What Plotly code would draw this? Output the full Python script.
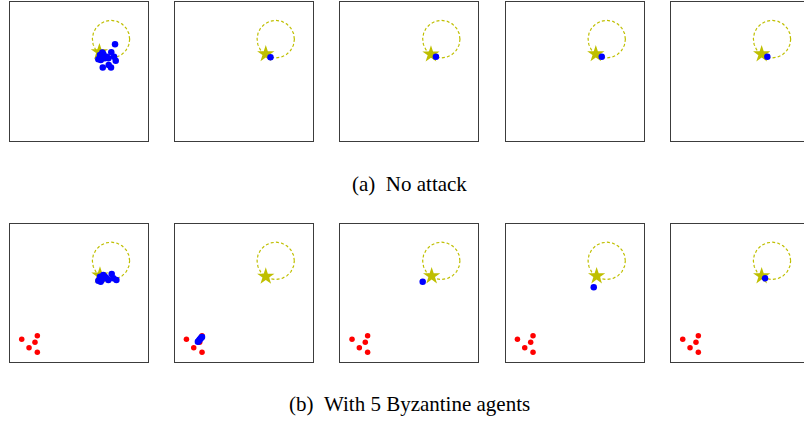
import numpy as np
import plotly.graph_objects as go

# ---- data (positions in the unit square of each snapshot) ----
TARGET_CENTER = (0.732, 0.733)
TARGET_RADIUS = 0.135

# target (star) position in each snapshot, top row then bottom row
star_x_a = [0.648, 0.660, 0.657, 0.653, 0.657]
star_y_a = [0.640, 0.626, 0.624, 0.626, 0.625]
star_x_b = [0.652, 0.660, 0.662, 0.659, 0.657]
star_y_b = [0.628, 0.620, 0.623, 0.623, 0.623]

# honest agents, (a) no attack
blue_a = [
    ([0.761, 0.734, 0.669, 0.652, 0.676, 0.700, 0.664, 0.640, 0.754, 0.766,
      0.672, 0.715, 0.732, 0.686, 0.658, 0.713],
     [0.696, 0.638, 0.636, 0.619, 0.626, 0.607, 0.602, 0.588, 0.607, 0.578,
      0.528, 0.547, 0.528, 0.595, 0.583, 0.595]),
    ([0.694], [0.602]),
    ([0.693], [0.607]),
    ([0.696], [0.607]),
    ([0.698], [0.607]),
]

# honest agents, (b) with Byzantine agents
blue_b = [
    ([0.737, 0.771, 0.676, 0.652, 0.640, 0.700, 0.664, 0.713, 0.749, 0.657,
      0.688],
     [0.638, 0.594, 0.630, 0.618, 0.589, 0.606, 0.594, 0.594, 0.606, 0.582,
      0.618]),
    ([0.168, 0.174, 0.180, 0.186, 0.192, 0.198],
     [0.146, 0.153, 0.161, 0.168, 0.175, 0.182]),
    ([0.597], [0.582]),
    ([0.638], [0.541]),
    ([0.681], [0.606]),
]

# Byzantine agents (fixed)
red_x = [0.198, 0.085, 0.181, 0.138, 0.198]
red_y = [0.191, 0.164, 0.143, 0.104, 0.070]

captions = ["(a)\u00a0\u00a0No attack", "(b)\u00a0\u00a0With 5 Byzantine agents"]

# ---- layout geometry (pixels) ----
W, H = 804, 421
panel_left = [10, 174.7, 340.3, 505.7, 671]
panel_w = 138
row_top = [2, 224]
row_h = [139, 138]

OLIVE = "#bfbf00"
SERIF = "Liberation Serif, Times New Roman, Times, serif"
fig = go.Figure()

theta = np.linspace(0, 2 * np.pi, 200)
circ_x = TARGET_CENTER[0] + TARGET_RADIUS * np.cos(theta)
circ_y = TARGET_CENTER[1] + TARGET_RADIUS * np.sin(theta)

idx = 0
for r in range(2):
    for c in range(5):
        idx += 1
        xa = "x" if idx == 1 else f"x{idx}"
        ya = "y" if idx == 1 else f"y{idx}"
        left = panel_left[c]
        right = min(left + panel_w, W)
        x_hi = (right - left) / panel_w
        fig.add_trace(go.Scatter(x=circ_x, y=circ_y, mode="lines",
                                 line=dict(color=OLIVE, width=1.2, dash="3px,2.2px"),
                                 xaxis=xa, yaxis=ya, hoverinfo="skip"))
        sx = star_x_a[c] if r == 0 else star_x_b[c]
        sy = star_y_a[c] if r == 0 else star_y_b[c]
        fig.add_trace(go.Scatter(x=[sx], y=[sy], mode="markers",
                                 marker=dict(symbol="star", size=13, color=OLIVE,
                                             line=dict(width=0)),
                                 xaxis=xa, yaxis=ya))
        if r == 1:
            fig.add_trace(go.Scatter(x=red_x, y=red_y, mode="markers",
                                     marker=dict(size=5.5, color="#ff0000",
                                                 line=dict(width=0)),
                                     xaxis=xa, yaxis=ya))
        bx, by = (blue_a if r == 0 else blue_b)[c]
        fig.add_trace(go.Scatter(x=bx, y=by, mode="markers",
                                 marker=dict(size=6.5, color="#0000ff",
                                             line=dict(width=0)),
                                 xaxis=xa, yaxis=ya))
        axis_common = dict(showgrid=False, zeroline=False, showticklabels=False,
                           ticks="", showline=True, linecolor="#3c3c3c",
                           linewidth=1, fixedrange=True)
        fig.layout[f"xaxis{'' if idx == 1 else idx}"] = dict(
            domain=[left / W, right / W], range=[0, x_hi], anchor=ya,
            mirror=True, **axis_common)
        fig.layout[f"yaxis{'' if idx == 1 else idx}"] = dict(
            domain=[1 - (row_top[r] + row_h[r]) / H, 1 - row_top[r] / H],
            range=[0, 1], anchor=xa, mirror=(c < 4), **axis_common)

cap_y = [184, 404]
for text, yy in zip(captions, cap_y):
    fig.add_annotation(text=text, xref="paper", yref="paper",
                       x=410 / W, y=1 - yy / H, showarrow=False,
                       xanchor="center", yanchor="middle",
                       font=dict(family=SERIF, size=21, color="black"))

fig.update_layout(width=W, height=H, margin=dict(l=0, r=0, t=0, b=0),
                  paper_bgcolor="white", plot_bgcolor="white",
                  font=dict(family=SERIF), showlegend=False)
fig.write_html("out.html")
